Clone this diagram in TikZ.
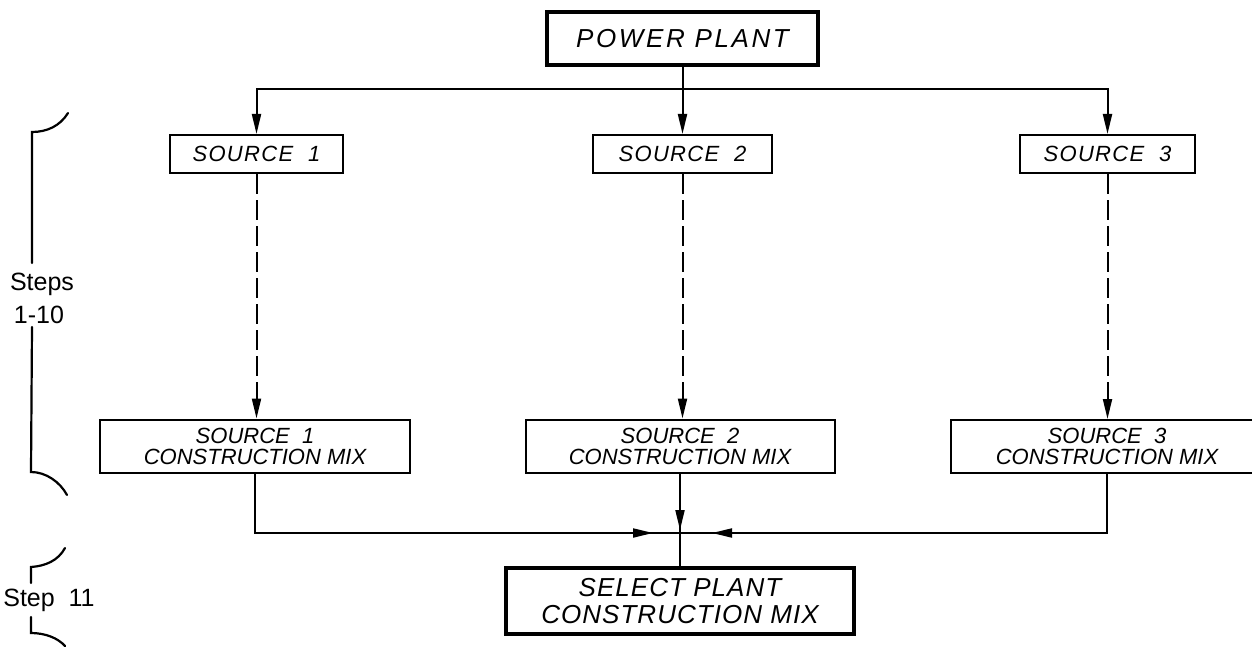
\documentclass[tikz,border=0pt]{standalone}
\usepackage{fontspec}
\setmainfont{Liberation Sans}
\usetikzlibrary{arrows.meta}
\tikzset{
  thinbox/.style={draw, line width=2pt, inner sep=0pt, align=center},
  thickbox/.style={draw, line width=4pt, inner sep=0pt, align=center},
  conn/.style={line width=2pt},
  arr/.style={conn, -{Triangle[length=20pt,width=9pt]}},
  darr/.style={line width=2pt, dash pattern=on 20pt off 6pt, -{Triangle[length=20pt,width=9pt]}},
  bracel/.style={line width=2.2pt, line cap=round},
  lbl/.style={inner sep=0pt, anchor=base, font=\fontsize{25}{28}\selectfont}
}
\begin{document}
\begin{tikzpicture}[x=1pt,y=-1pt]
\useasboundingbox (0,0) rectangle (1252,650);
\clip (0,0) rectangle (1252,650);

% boxes
\node[thickbox, minimum width=271pt, minimum height=53pt,
      font=\fontsize{26}{30}\selectfont\itshape\addfontfeatures{LetterSpace=10}]
      (pp) at (682.5,38.7) {POWER\ PLANT};

\node[thinbox, minimum width=173pt, minimum height=38pt,
      font=\fontsize{22}{26}\selectfont\itshape\addfontfeatures{LetterSpace=6}]
      (s1) at (256.5,154) {SOURCE\ \ 1};
\node[thinbox, minimum width=179pt, minimum height=38pt,
      font=\fontsize{22}{26}\selectfont\itshape\addfontfeatures{LetterSpace=6}]
      (s2) at (682.5,154) {SOURCE\ \ 2};
\node[thinbox, minimum width=175pt, minimum height=38pt,
      font=\fontsize{22}{26}\selectfont\itshape\addfontfeatures{LetterSpace=6}]
      (s3) at (1107.5,154) {SOURCE\ \ 3};

\node[thinbox, minimum width=310pt, minimum height=53pt,
      font=\fontsize{22}{21}\selectfont\itshape]
      (m1) at (255,446) {SOURCE\ \ 1\\CONSTRUCTION\ MIX};
\node[thinbox, minimum width=309pt, minimum height=53pt,
      font=\fontsize{22}{21}\selectfont\itshape]
      (m2) at (680,446) {SOURCE\ \ 2\\CONSTRUCTION\ MIX};
\node[thinbox, minimum width=312pt, minimum height=53pt,
      font=\fontsize{22}{21}\selectfont\itshape]
      (m3) at (1107,446.5) {SOURCE\ \ 3\\CONSTRUCTION\ MIX};

\node[thickbox, minimum width=348pt, minimum height=66pt,
      font=\fontsize{26}{27}\selectfont\itshape\addfontfeatures{LetterSpace=4}]
      (sel) at (680,601) {SELECT\ PLANT\\CONSTRUCTION\ MIX};

% top distribution
\coordinate (j) at (682.5,89);
\draw[arr] (pp.south) -- (s2.north);
\draw[arr] (j) -| (s1.north);
\draw[arr] (j) -| (s3.north);

% dashed
\draw[darr] (s1.south) -- (s1.south |- m1.north);
\draw[darr] (s2.south) -- (s2.south |- m2.north);
\draw[darr] (s3.south) -- (s3.south |- m3.north);

% bottom collection
\coordinate (b) at (680,533);
\coordinate (aL) at (653,533);
\coordinate (aR) at (712,533);
\coordinate (aM) at (680,530);
\draw[conn] (m1.south) |- (b);
\draw[conn] (m3.south) |- (b);
\draw[conn] (m2.south) -- (sel.north);
\draw[arr] (m1.south) |- (aL);
\draw[arr] (m3.south) |- (aR);
\draw[arr] (m2.south) -- (aM);

% braces
\draw[bracel] (68,113) .. controls (60,126) and (47,132) .. (32,132) -- (32,263);
\draw[bracel] (32,327) -- (31,472) .. controls (46,472) and (60,482) .. (67,495);
\node[lbl] (st1) at (42,290) {Steps};
\node[lbl] (st2) at (39,323) {1-10};

\draw[bracel] (65,548) .. controls (58,561) and (45,566) .. (31,567) -- (31,583);
\draw[bracel] (31,617) -- (31,633) .. controls (45,633) and (58,638) .. (65,646);
\node[lbl] (st3) at (49,606) {Step\ \ 11};
\end{tikzpicture}
\end{document}
